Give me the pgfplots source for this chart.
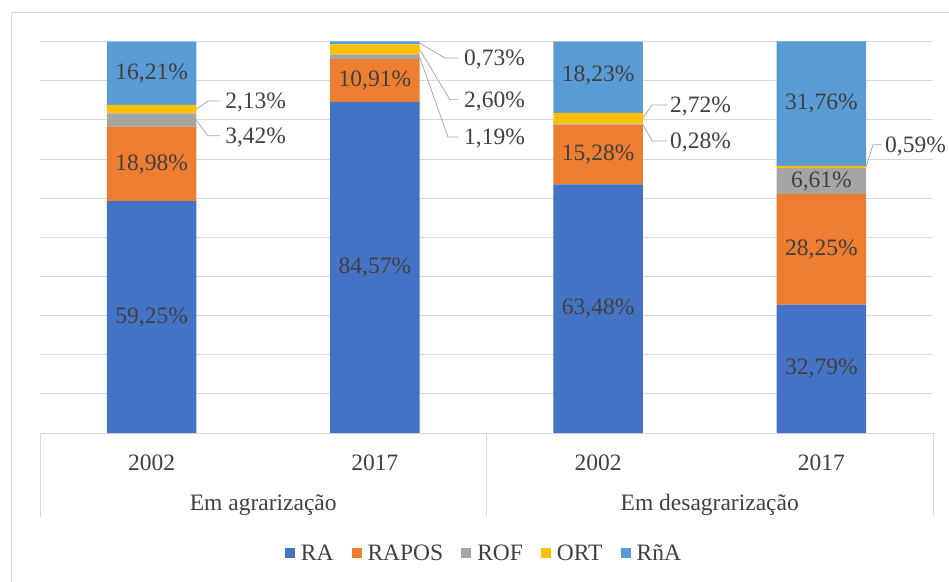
\documentclass[border=0pt]{standalone}
\usepackage{pgfplots}
\pgfplotsset{compat=1.18}
\usepackage{pgfplotstable}
\usepackage{fontspec}
\setmainfont{Liberation Serif}
\definecolor{cRA}{HTML}{4472C4}
\definecolor{cRAPOS}{HTML}{ED7D31}
\definecolor{cROF}{HTML}{A5A5A5}
\definecolor{cORT}{HTML}{FFC000}
\definecolor{cRnA}{HTML}{5B9BD5}
\definecolor{txt}{HTML}{404040}
\definecolor{gridc}{HTML}{D9D9D9}
\definecolor{leader}{HTML}{A6A6A6}
\newcommand{\labfont}{\fontsize{23.5bp}{28bp}\selectfont}
\tikzset{lab/.style={font=\labfont, text=txt, inner sep=0pt},
  ldr/.style={leader, line width=0.75bp}}

\pgfplotstableread{
x RA RAPOS ROF ORT RnA
0 59.25 18.98 3.42 2.13 16.21
1 84.57 10.91 1.19 2.60 0.73
2 63.48 15.28 0.28 2.72 18.23
3 32.79 28.25 6.61 0.59 31.76
}\datatable

% centres of the segments that carry a label inside the bar
\pgfplotstableread{
x y lab
0 29.6 59,25\%
0 68.7 18,98\%
0 91.9 16,21\%
1 42.3 84,57\%
1 90.0 10,91\%
2 31.7 63,48\%
2 71.1 15,28\%
2 91.3 18,23\%
3 16.4 32,79\%
3 46.9 28,25\%
3 64.35 6,61\%
3 84.1 31,76\%
}\inlabels

\begin{document}
\begin{tikzpicture}
\useasboundingbox (0bp,0bp) rectangle (949bp,582bp);
\draw[gridc, line width=0.75bp] (11bp,-5bp) -- (11bp,570bp) -- (960bp,570bp);
\begin{axis}[
  at={(40bp,149bp)}, anchor=south west,
  scale only axis, width=893bp, height=391.5bp,
  ybar stacked, bar width=0.4,
  xmin=-0.5, xmax=3.5, ymin=0, ymax=100,
  xtick={0,1,2,3}, xticklabels={2002,2017,2002,2017},
  ytick={0,10,...,100}, yticklabels={},
  ymajorgrids, grid style={gridc, line width=0.75bp},
  axis x line*=bottom, axis y line*=left,
  y axis line style={draw=none},
  x axis line style={gridc, line width=0.75bp},
  major tick length=0pt,
  xticklabel style={font=\labfont, text=txt, inner sep=0pt, yshift=-22bp},
  clip=false,
  legend columns=5,
  legend style={at={(0.496,-0.3065)}, anchor=center, draw=none, fill=none,
     font=\labfont, text=txt, nodes={inner sep=0pt},
     /tikz/every odd column/.append style={column sep=6bp},
     /tikz/every even column/.append style={column sep=18bp}},
  legend image code/.code={\fill[#1] (0bp,-5bp) rectangle (10bp,5bp);},
]
\addplot[fill=cRA, draw=none] table[x=x, y=RA] {\datatable};
\addplot[fill=cRAPOS, draw=none] table[x=x, y=RAPOS] {\datatable};
\addplot[fill=cROF, draw=none] table[x=x, y=ROF] {\datatable};
\addplot[fill=cORT, draw=none] table[x=x, y=ORT] {\datatable};
\addplot[fill=cRnA, draw=none] table[x=x, y=RnA] {\datatable};
\legend{RA,RAPOS,ROF,ORT,RñA}

\draw[gridc, line width=0.75bp] (axis cs:-0.5,0) -- ++(0bp,-84bp);
\draw[gridc, line width=0.75bp] (axis cs:1.5,0) -- ++(0bp,-84bp);
\draw[gridc, line width=0.75bp] (axis cs:3.5,0) -- ++(0bp,-84bp);

\draw[ldr] (axis cs:0.2,82.7) -- (axis cs:0.2525,84.8) -- (axis cs:0.306,84.8);
\node[lab, anchor=west] at (axis cs:0.329,84.4) {2,13\%};
\draw[ldr] (axis cs:0.2,79.9) -- (axis cs:0.2525,75.9) -- (axis cs:0.306,75.9);
\node[lab, anchor=west] at (axis cs:0.329,75.4) {3,42\%};
\draw[ldr] (axis cs:1.2,99.6) -- (axis cs:1.314,95.8) -- (axis cs:1.372,95.8);
\node[lab, anchor=west] at (axis cs:1.399,95.3) {0,73\%};
\draw[ldr] (axis cs:1.2,98.0) -- (axis cs:1.3365,85.1) -- (axis cs:1.372,85.1);
\node[lab, anchor=west] at (axis cs:1.399,84.6) {2,60\%};
\draw[ldr] (axis cs:1.2,96.1) -- (axis cs:1.3275,75.6) -- (axis cs:1.372,75.6);
\node[lab, anchor=west] at (axis cs:1.399,75.1) {1,19\%};
\draw[ldr] (axis cs:2.2,80.4) -- (axis cs:2.2413,83.8) -- (axis cs:2.3085,83.8);
\node[lab, anchor=west] at (axis cs:2.322,83.3) {2,72\%};
\draw[ldr] (axis cs:2.2,78.9) -- (axis cs:2.2413,74.6) -- (axis cs:2.3085,74.6);
\node[lab, anchor=west] at (axis cs:2.322,74.1) {0,28\%};
\draw[ldr] (axis cs:3.2,67.95) -- (axis cs:3.231,73.6) -- (axis cs:3.2715,73.6);
\node[lab, anchor=west] at (axis cs:3.285,73.1) {0,59\%};

\node[lab] at (axis cs:0.5,0) [yshift=-72bp] {Em agrarização};
\node[lab] at (axis cs:2.5,0) [yshift=-72bp] {Em desagrarização};
\end{axis}

% overlay axis with the in-bar value labels (drawn above the bars)
\begin{axis}[
  at={(40bp,149bp)}, anchor=south west,
  scale only axis, width=893bp, height=391.5bp,
  xmin=-0.5, xmax=3.5, ymin=0, ymax=100,
  hide axis, clip=false,
]
\addplot[only marks, mark=none, nodes near coords, point meta=explicit symbolic,
  every node near coord/.style={lab, anchor=center}]
  table[x=x, y=y, meta=lab] {\inlabels};
\end{axis}
\end{tikzpicture}
\end{document}
